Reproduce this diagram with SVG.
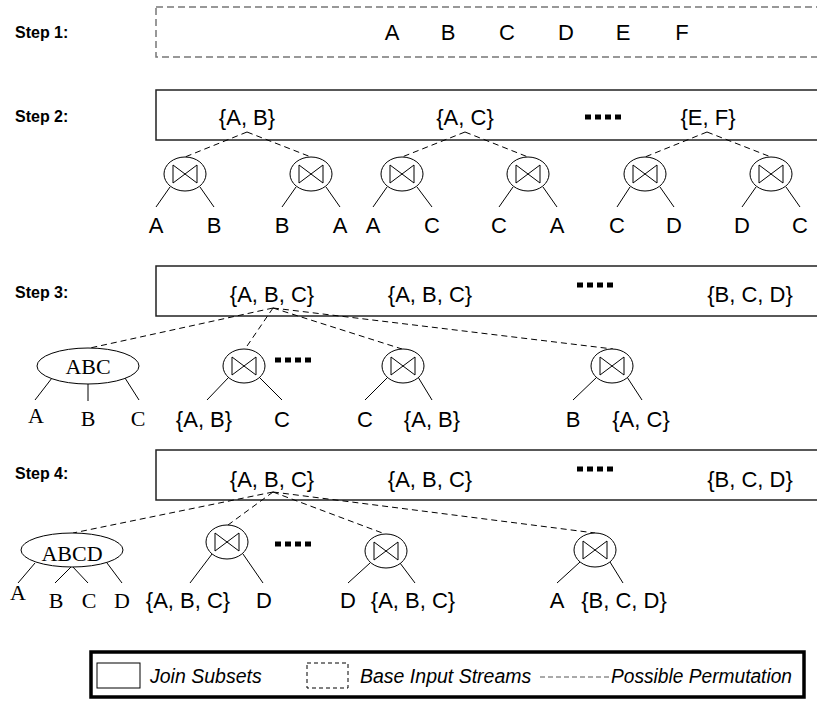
<svg xmlns="http://www.w3.org/2000/svg" xmlns:xlink="http://www.w3.org/1999/xlink" width="817" height="702" viewBox="0 0 817 702">
<style>
.box{fill:#fff;stroke:#222;stroke-width:1.5}
.base{fill:#fff;stroke:#777;stroke-width:1.5;stroke-dasharray:7 4}
.perm{fill:none;stroke:#000;stroke-width:1;stroke-dasharray:6 4}
.edge{fill:none;stroke:#000;stroke-width:1}
.node{fill:#fff;stroke:#000;stroke-width:1}
.t{font-family:"Liberation Sans",Arial,sans-serif;font-size:22px;text-anchor:middle;fill:#000}
.s{font-family:"Liberation Serif","Times New Roman",serif;font-size:22px;text-anchor:middle;fill:#000}
.step{font-family:"Liberation Sans",Arial,sans-serif;font-size:16px;font-weight:bold;fill:#000}
.lg{font-family:"Liberation Sans",Arial,sans-serif;font-size:19.5px;font-style:italic;fill:#000}
.dots{stroke:#000;stroke-width:5;stroke-dasharray:6 4}
</style>
<defs>
<g id="join">
<ellipse class="node" cx="0" cy="0" rx="21" ry="17"/>
<path class="edge" d="M-12,-9 L-12,9 L12,-9 L12,9 Z"/>
</g>
</defs>

<!-- Step labels -->
<text class="step" x="15" y="38">Step 1:</text>
<text class="step" x="15" y="122">Step 2:</text>
<text class="step" x="15" y="298">Step 3:</text>
<text class="step" x="15" y="479">Step 4:</text>

<!-- Step boxes -->
<g id="step1">
<rect class="base" x="156" y="7" width="680" height="50"/>
<text class="t" x="392" y="40">A</text>
<text class="t" x="448" y="40">B</text>
<text class="t" x="507" y="40">C</text>
<text class="t" x="566" y="40">D</text>
<text class="t" x="623" y="40">E</text>
<text class="t" x="682" y="40">F</text>
</g>
<g id="step2">
<rect class="box" x="156" y="90" width="680" height="50"/>
<text class="t" x="247" y="125">{A, B}</text>
<text class="t" x="465" y="125">{A, C}</text>
<line class="dots" x1="585" y1="117" x2="623" y2="117"/>
<text class="t" x="708" y="125">{E, F}</text>
</g>
<g id="step3">
<rect class="box" x="156" y="266" width="680" height="50"/>
<text class="t" x="272" y="302">{A, B, C}</text>
<text class="t" x="430" y="302">{A, B, C}</text>
<line class="dots" x1="577" y1="285" x2="615" y2="285"/>
<text class="t" x="750" y="302">{B, C, D}</text>
</g>
<g id="step4">
<rect class="box" x="156" y="450" width="680" height="50"/>
<text class="t" x="272" y="487">{A, B, C}</text>
<text class="t" x="430" y="487">{A, B, C}</text>
<line class="dots" x1="577" y1="469" x2="615" y2="469"/>
<text class="t" x="750" y="487">{B, C, D}</text>
</g>

<!-- Connectors -->
<g id="connectors">
<!-- step 2 permutations -->
<path class="perm" d="M247,132 L185,157 M247,132 L311,157"/>
<path class="perm" d="M465,132 L402,157 M465,132 L528,157"/>
<path class="perm" d="M707,132 L645,157 M707,132 L771,157"/>
<!-- step 2 legs -->
<path class="edge" d="M170,187 L156,207 M200,187 L214,207"/>
<path class="edge" d="M296,187 L282,207 M326,187 L340,207"/>
<path class="edge" d="M387,187 L373,207 M417,187 L432,207"/>
<path class="edge" d="M513,187 L499,207 M543,187 L557,207"/>
<path class="edge" d="M630,187 L617,207 M660,187 L674,207"/>
<path class="edge" d="M756,187 L742,207 M786,187 L800,207"/>
<!-- step 3 permutations -->
<path class="perm" d="M273,308 L90,348 M273,308 L245,349 M273,308 L402,349 M273,308 L613,349"/>
<!-- step 3 legs -->
<path class="edge" d="M52,378 L35,400 M88,384 L88,401 M125,378 L139,400"/>
<path class="edge" d="M229,377 L207,400 M259,377 L282,400"/>
<path class="edge" d="M388,377 L365,400 M418,377 L432,400"/>
<path class="edge" d="M597,377 L573,400 M627,377 L642,400"/>
<!-- step 4 permutations -->
<path class="perm" d="M273,492 L73,533 M273,492 L228,525 M273,492 L385,534 M273,492 L595,533"/>
<!-- step 4 legs -->
<path class="edge" d="M35,563 L18,583 M55,583 L72,566 L88,583 M107,563 L122,583"/>
<path class="edge" d="M212,554 L190,583 M243,554 L263,583"/>
<path class="edge" d="M370,563 L348,583 M400,563 L415,583"/>
<path class="edge" d="M580,562 L557,583 M610,562 L623,583"/>
</g>

<!-- Step 2 join nodes and leaves -->
<g id="j2a"><use xlink:href="#join" x="185" y="174"/></g>
<g id="j2b"><use xlink:href="#join" x="311" y="174"/></g>
<g id="j2c"><use xlink:href="#join" x="402" y="174"/></g>
<g id="j2d"><use xlink:href="#join" x="528" y="174"/></g>
<g id="j2e"><use xlink:href="#join" x="645" y="174"/></g>
<g id="j2f"><use xlink:href="#join" x="771" y="174"/></g>
<g id="leaves2">
<text class="t" x="156" y="233">A</text>
<text class="t" x="214" y="233">B</text>
<text class="t" x="282" y="233">B</text>
<text class="t" x="340" y="233">A</text>
<text class="t" x="373" y="233">A</text>
<text class="t" x="432" y="233">C</text>
<text class="t" x="499" y="233">C</text>
<text class="t" x="557" y="233">A</text>
<text class="t" x="617" y="233">C</text>
<text class="t" x="674" y="233">D</text>
<text class="t" x="742" y="233">D</text>
<text class="t" x="800" y="233">C</text>
</g>

<!-- Step 3 -->
<g id="abc">
<ellipse class="node" cx="88" cy="366" rx="51" ry="18"/>
<text class="s" x="88" y="374">ABC</text>
<text class="s" x="36" y="423">A</text>
<text class="s" x="88" y="426">B</text>
<text class="s" x="138" y="426">C</text>
</g>
<g id="j3a"><use xlink:href="#join" x="244" y="366"/>
<text class="t" x="204" y="427">{A, B}</text>
<text class="t" x="282" y="427">C</text></g>
<line class="dots" x1="275" y1="360" x2="313" y2="360"/>
<g id="j3b"><use xlink:href="#join" x="403" y="366"/>
<text class="t" x="365" y="427">C</text>
<text class="t" x="432" y="427">{A, B}</text></g>
<g id="j3c"><use xlink:href="#join" x="612" y="366"/>
<text class="t" x="573" y="427">B</text>
<text class="t" x="641" y="427">{A, C}</text></g>

<!-- Step 4 -->
<g id="abcd">
<ellipse class="node" cx="72" cy="550" rx="51" ry="17"/>
<text class="s" x="72" y="561">ABCD</text>
<text class="s" x="18" y="600">A</text>
<text class="s" x="56" y="608">B</text>
<text class="s" x="89" y="608">C</text>
<text class="s" x="122" y="608">D</text>
</g>
<g id="j4a"><use xlink:href="#join" x="227" y="542"/>
<text class="t" x="188" y="608">{A, B, C}</text>
<text class="t" x="264" y="608">D</text></g>
<line class="dots" x1="275" y1="544" x2="313" y2="544"/>
<g id="j4b"><use xlink:href="#join" x="386" y="551"/>
<text class="t" x="348" y="608">D</text>
<text class="t" x="413" y="608">{A, B, C}</text></g>
<g id="j4c"><use xlink:href="#join" x="595" y="550"/>
<text class="t" x="557" y="608">A</text>
<text class="t" x="624" y="608">{B, C, D}</text></g>

<!-- Legend -->
<g id="legend">
<rect x="91" y="652" width="713" height="45" fill="#fff" stroke="#000" stroke-width="3.5"/>
<rect x="97" y="663" width="43" height="25" fill="#fff" stroke="#000" stroke-width="1"/>
<text class="lg" x="150" y="683">Join Subsets</text>
<rect x="307" y="663" width="41" height="25" fill="#fff" stroke="#000" stroke-width="1" stroke-dasharray="4 3"/>
<text class="lg" x="360" y="683">Base Input Streams</text>
<line x1="540" y1="677" x2="609" y2="677" stroke="#555" stroke-width="1" stroke-dasharray="5 3"/>
<text class="lg" x="611" y="683" textLength="181" lengthAdjust="spacingAndGlyphs">Possible Permutation</text>
</g>
</svg>
